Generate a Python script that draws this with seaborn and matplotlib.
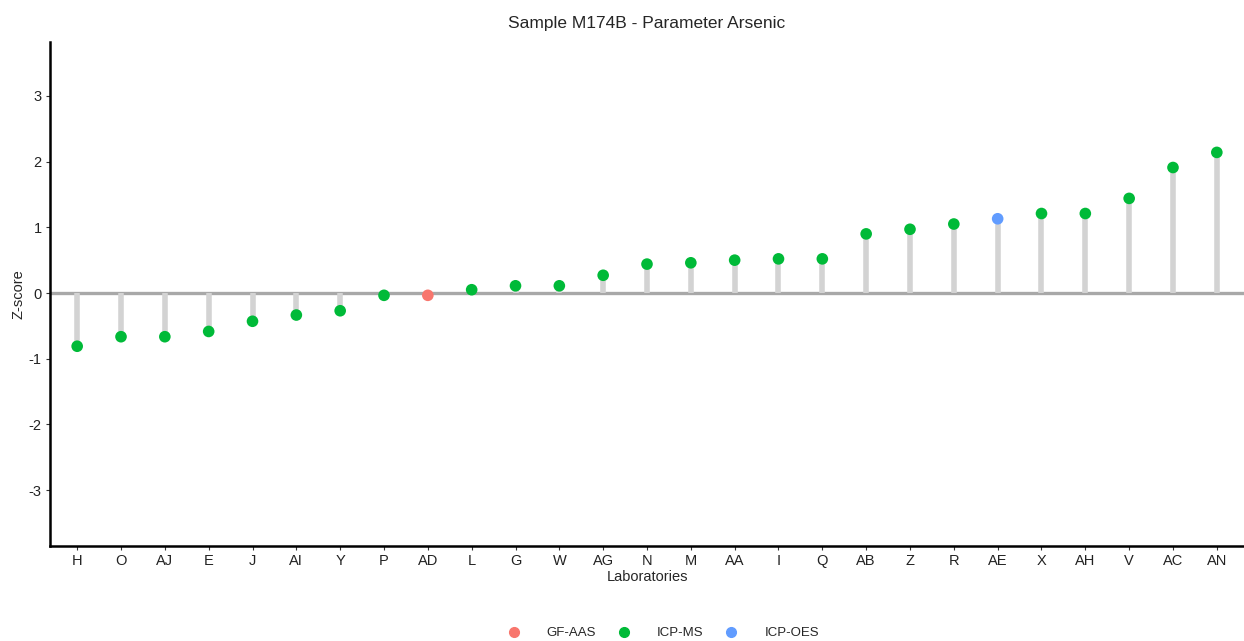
import matplotlib
matplotlib.use("Agg")
import matplotlib.pyplot as plt
import seaborn as sns
import pandas as pd

labs = ["H", "O", "AJ", "E", "J", "AI", "Y", "P", "AD", "L", "G", "W", "AG", "N",
        "M", "AA", "I", "Q", "AB", "Z", "R", "AE", "X", "AH", "V", "AC", "AN"]
zscores = [-0.81, -0.665, -0.665, -0.585, -0.43, -0.335, -0.27, -0.035, -0.035,
           0.05, 0.11, 0.11, 0.27, 0.44, 0.46, 0.50, 0.52, 0.52, 0.90, 0.97,
           1.05, 1.13, 1.21, 1.21, 1.44, 1.91, 2.14]
methods = ["ICP-MS"] * 8 + ["GF-AAS"] + ["ICP-MS"] * 12 + ["ICP-OES"] + ["ICP-MS"] * 5
method_order = ["GF-AAS", "ICP-MS", "ICP-OES"]
palette = {"GF-AAS": "#F8766D", "ICP-MS": "#00BA38", "ICP-OES": "#619CFF"}

df = pd.DataFrame({"lab": labs, "z": zscores, "method": methods})
df["pos"] = range(len(df))

sns.set_style("white")
plt.rcParams["font.family"] = ["Liberation Sans", "DejaVu Sans"]

fig = plt.figure(figsize=(12.44, 6.41), dpi=100)
ax = fig.add_axes([50 / 1244, 1 - 546 / 641, 1194 / 1244, 504 / 641])

ax.axhline(0, color="#a8a8a8", lw=2.4, zorder=1)
ax.vlines(df["pos"], 0, df["z"], color="#d3d3d3", lw=4, zorder=2)
sns.scatterplot(data=df, x="pos", y="z", hue="method", hue_order=method_order,
                palette=palette, s=70, edgecolor="none", ax=ax, zorder=3, legend=False)

ax.set_xlim(-0.62, len(labs) - 1 + 0.62)
ax.set_ylim(-3.85, 3.82)
ax.set_xticks(df["pos"])
ax.set_xticklabels(labs)
ax.set_yticks([-3, -2, -1, 0, 1, 2, 3])
ax.set_yticklabels(["-3", "-2", "-1", "0", "1", "2", "3"])
ax.tick_params(axis="both", labelsize=10.5, length=3, width=0.8, color="#333333",
               labelcolor="#222222", pad=3, bottom=True, left=True)
ax.set_xlabel("Laboratories", fontsize=10.5, labelpad=1)
ax.set_ylabel("Z-score", fontsize=10.5, labelpad=2)
ax.set_title("Sample M174B - Parameter Arsenic", fontsize=12.5, pad=10)

for side in ["top", "right"]:
    ax.spines[side].set_visible(False)
for side in ["left", "bottom"]:
    ax.spines[side].set_color("black")
    ax.spines[side].set_linewidth(1.8)

handles = [plt.Line2D([], [], marker="o", ls="", color=palette[m], markersize=7)
           for m in method_order]
fig.legend(handles, method_order, loc="center", bbox_to_anchor=(0.533, 1 - 633 / 641),
           ncol=3, frameon=False, fontsize=9.5, handlelength=1.0,
           columnspacing=1.6, handletextpad=2.0)

fig.savefig("out.png", dpi=100)
